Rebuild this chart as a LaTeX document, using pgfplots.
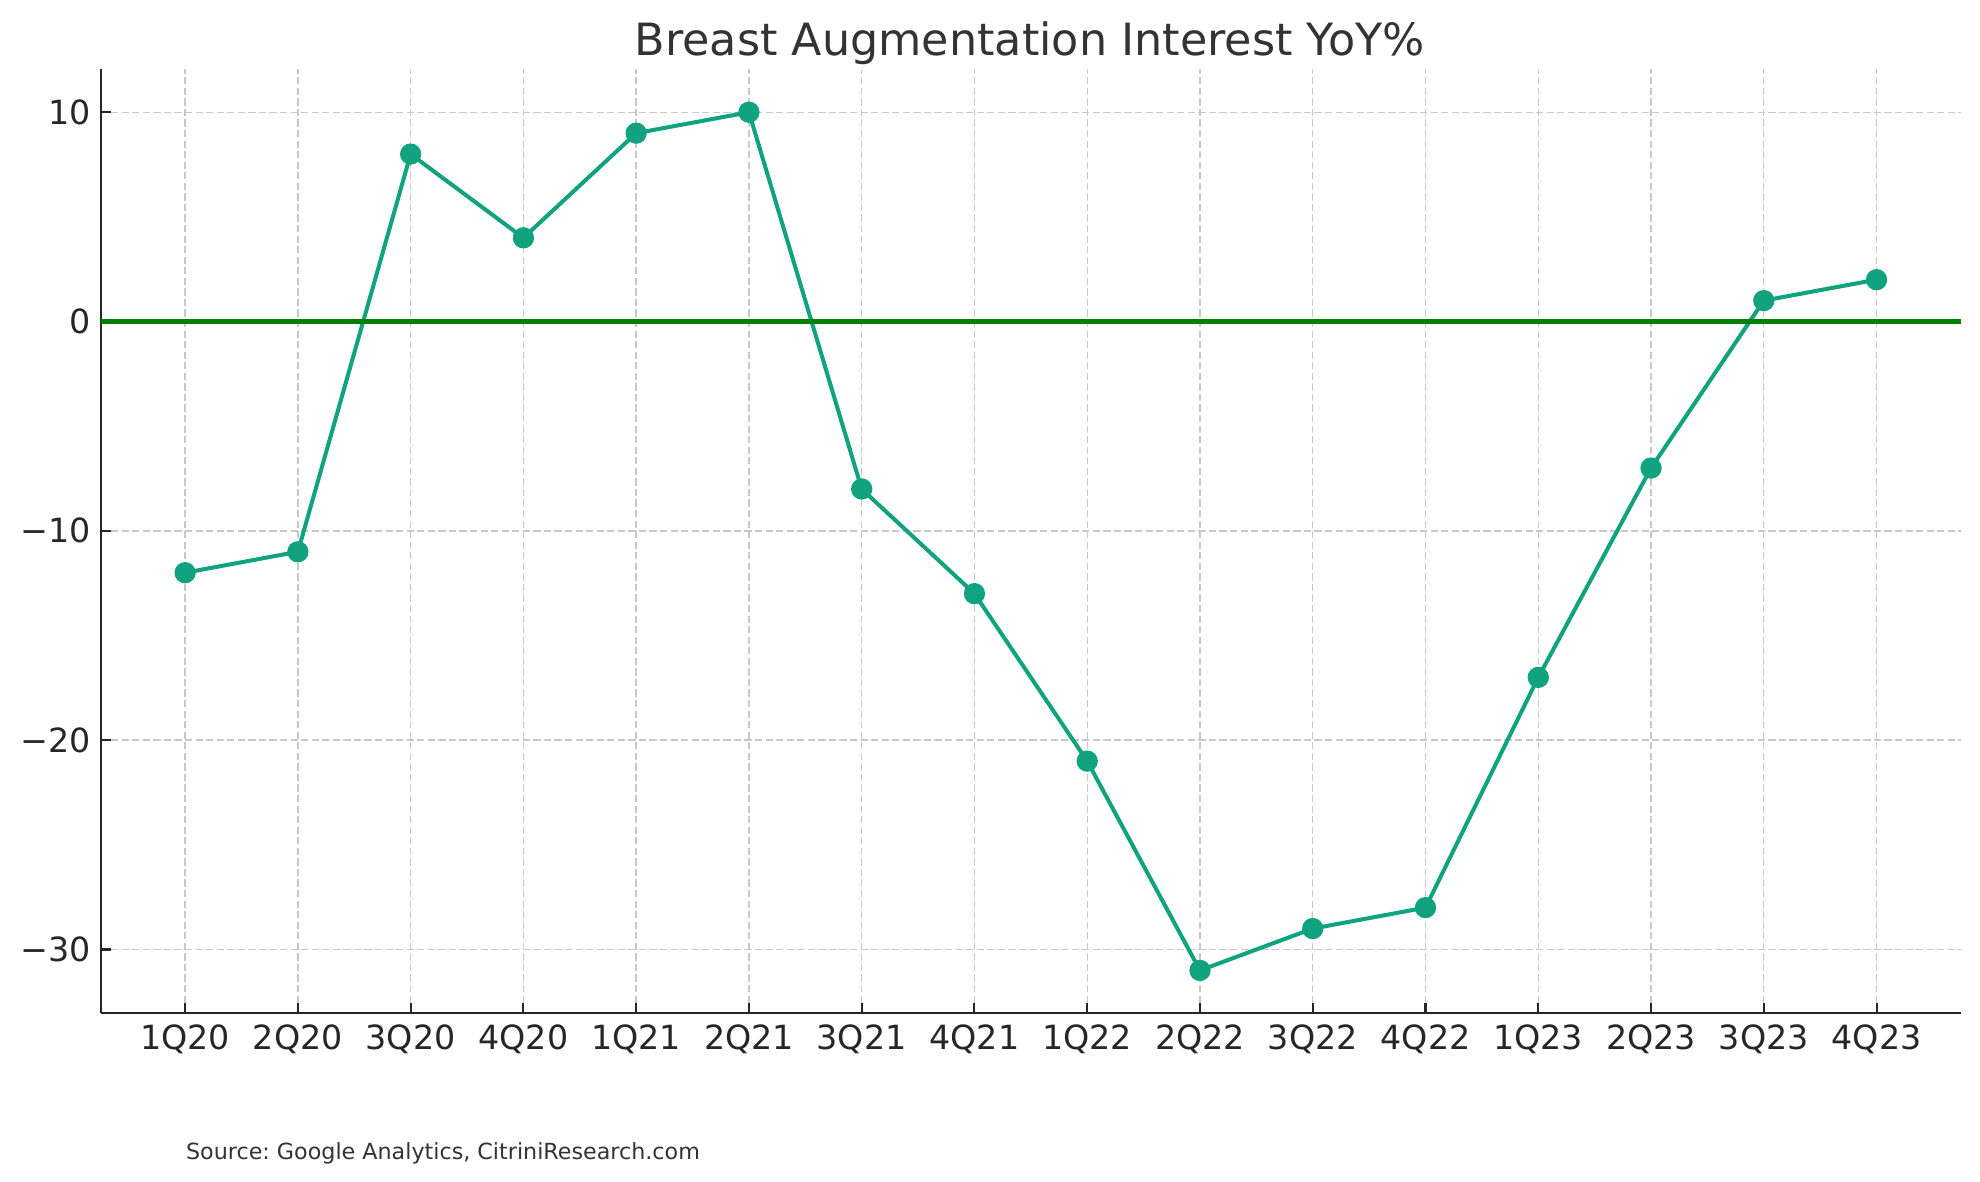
\documentclass[border=0pt]{standalone}
\usepackage{fontspec}
\setmainfont{DejaVu Sans}
\usepackage{pgfplots}
\pgfplotsset{compat=1.18}
\frenchspacing
\definecolor{teal1}{RGB}{17,163,127}
\definecolor{gridc}{RGB}{200,200,200}
\definecolor{spine}{RGB}{38,38,38}
\definecolor{titlec}{RGB}{51,51,51}
\begin{document}
\begin{tikzpicture}
\path[use as bounding box] (-36.2pt,-60.7pt) rectangle (676.6pt,364.8pt);
\begin{axis}[
  at={(0,0)}, anchor=south west,
  scale only axis,
  width=669.8pt, height=339.84pt,
  xmin=-0.75, xmax=15.75,
  ymin=-33.05, ymax=12.05,
  axis lines*=left,
  axis line style={spine, line width=0.75pt},
  every tick/.style={spine, line width=0.75pt},
  tick align=inside,
  major tick length=3.6pt,
  xtick={0,...,15},
  xticklabels={1Q20,2Q20,3Q20,4Q20,1Q21,2Q21,3Q21,4Q21,1Q22,2Q22,3Q22,4Q22,1Q23,2Q23,3Q23,4Q23},
  ytick={-30,-20,-10,0,10},
  yticklabels={−30,−20,−10,0,10},
  tick label style={font=\fontsize{12pt}{14pt}\selectfont, text=spine, inner sep=0pt},
  xticklabel style={anchor=north, yshift=-4pt},
  yticklabel style={anchor=east, xshift=-3.4pt},
  grid=major,
  major grid style={gridc, line width=0.5pt, dash pattern=on 2.6pt off 1.2pt},
  clip=false,
]
\addplot[teal1, line width=1.45pt, mark=*, mark size=3.1pt, mark options={solid, fill=teal1, draw=teal1}]
coordinates {
(0,-12) (1,-11) (2,8) (3,4) (4,9) (5,10) (6,-8) (7,-13)
(8,-21) (9,-31) (10,-29) (11,-28) (12,-17) (13,-7) (14,1) (15,2)
};
\addplot[green!50!black, line width=1.8pt] coordinates {(-0.75,0) (15.75,0)};
\end{axis}
\node[anchor=base, text=titlec, font=\fontsize{16pt}{19pt}\selectfont, inner sep=0pt] at (334.5pt,344.8pt) {Breast Augmentation Interest YoY\%};
\node[anchor=base west, text=titlec, font=\fontsize{8pt}{10pt}\selectfont, inner sep=0pt] at (30.6pt,-52.6pt) {Source: Google Analytics, CitriniResearch.com};
\end{tikzpicture}
\end{document}
